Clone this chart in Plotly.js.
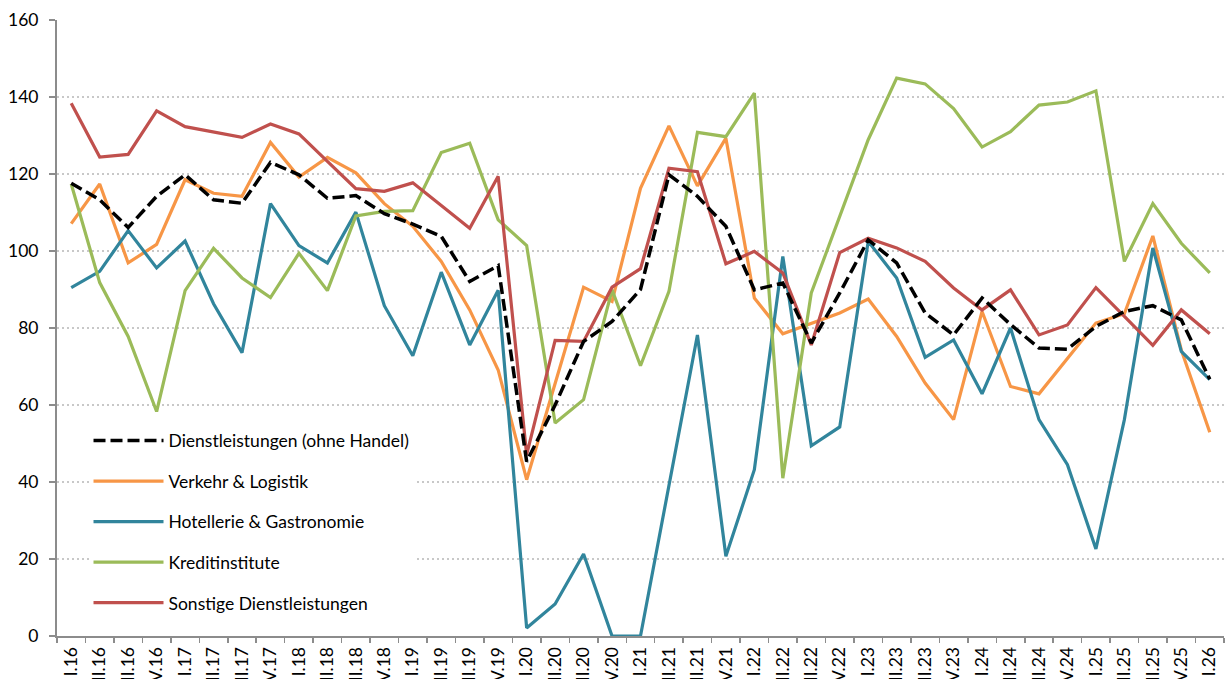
<!DOCTYPE html>
<html>
<head>
<meta charset="utf-8">
<script src="https://cdn.plot.ly/plotly-3.0.1.min.js"></script>
<style>
  html, body { margin: 0; padding: 0; background: #ffffff; }
  #chart { width: 1225px; height: 679px; }
</style>
</head>
<body>
<div id="chart"></div>
<script>
// Quarter labels I.16 ... I.26
const quarters = [
  "I.16","II.16","III.16","IV.16",
  "I.17","II.17","III.17","IV.17",
  "I.18","II.18","III.18","IV.18",
  "I.19","II.19","III.19","IV.19",
  "I.20","II.20","III.20","IV.20",
  "I.21","II.21","III.21","IV.21",
  "I.22","II.22","III.22","IV.22",
  "I.23","II.23","III.23","IV.23",
  "I.24","II.24","III.24","IV.24",
  "I.25","II.25","III.25","IV.25",
  "I.26"
];

const dienstleistungen = [
  117.6,113.3,106.1,114.2, 119.8,113.3,112.4,123.0, 119.8,113.7,114.4,109.7,
  107.0,103.8,92.1,96.2, 45.3,60.0,76.5,81.7, 90.0,119.8,114.2,106.4,
  89.9,91.7,76.1,89.1, 102.9,96.9,83.9,78.2, 87.8,80.9,74.8,74.5,
  80.4,84.3,85.8,82.1, 66.7
];

const verkehr = [
  107.1,117.4,96.9,101.7, 118.5,115.0,114.2,128.2, 119.2,124.3,120.3,112.3,
  106.4,97.3,84.7,69.1, 40.6,65.6,90.6,86.9, 116.3,132.5,116.9,129.3,
  87.8,78.5,81.3,83.9, 87.5,77.8,65.7,56.2, 84.3,64.8,62.9,72.2,
  81.3,83.7,103.9,74.3, 52.9
];

const hotellerie = [
  90.5,94.7,105.3,95.6, 102.6,86.3,73.6,112.3, 101.4,96.9,110.1,85.8,
  72.8,94.5,75.6,89.8, 2.1,8.3,21.3,0.0, 0.0,39.0,78.2,20.7,
  43.2,98.6,49.4,54.3, 102.5,93.0,72.4,76.9, 62.9,80.0,56.2,44.5,
  22.6,56.2,100.8,73.9, 66.6
];

const kredit = [
  117.4,91.8,77.8,58.3, 89.7,100.7,93.0,87.9, 99.4,89.7,109.1,110.3,
  110.5,125.6,128.0,108.1, 101.4,55.3,61.4,89.9, 70.2,89.5,130.8,129.7,
  141.0,41.0,89.1,109.0, 128.9,144.9,143.4,137.0, 127.0,131.0,137.9,138.7,
  141.6,97.3,112.3,102.0, 94.3
];

const sonstige = [
  138.4,124.4,125.1,136.4, 132.3,130.8,129.5,133.0, 130.4,123.3,116.2,115.5,
  117.7,111.8,105.9,119.4, 47.1,76.8,76.5,90.6, 95.4,121.5,120.6,96.7,
  99.9,94.3,75.6,99.6, 103.3,100.8,97.3,90.4, 84.7,89.9,78.2,80.8,
  90.5,83.0,75.5,84.7, 78.5
];

const seriesNames = [
  "Dienstleistungen (ohne Handel)",
  "Verkehr & Logistik",
  "Hotellerie & Gastronomie",
  "Kreditinstitute",
  "Sonstige Dienstleistungen"
];

const yTicks = [0, 20, 40, 60, 80, 100, 120, 140, 160];

const FONT = "Lato, 'Open Sans', sans-serif";

function mk(name, y, color, width, dash, group, rank) {
  return {
    type: "scatter", mode: "lines", name: name, x: quarters, y: y,
    legendgroup: group, legendrank: rank,
    line: { color: color, width: width, dash: dash },
    hoverinfo: "skip"
  };
}

// draw order: coloured series first, black dashed on top
const traces = [
  mk(seriesNames[1], verkehr, "#F79646", 3.2, "solid", "g2", 2),
  mk(seriesNames[2], hotellerie, "#31859C", 3.2, "solid", "g3", 3),
  mk(seriesNames[3], kredit, "#9BBB59", 3.2, "solid", "g4", 4),
  mk(seriesNames[4], sonstige, "#C0504D", 3.2, "solid", "g5", 5),
  mk(seriesNames[0], dienstleistungen, "#000000", 3.5, "12px,5px", "g1", 1)
];

const layout = {
  width: 1225, height: 679,
  margin: { l: 57, r: 1, t: 20, b: 43, pad: 0 },
  paper_bgcolor: "#ffffff", plot_bgcolor: "#ffffff",
  font: { family: FONT, size: 17.5, color: "#000000" },
  showlegend: true,
  legend: {
    x: 0.027, y: 0.025, xanchor: "left", yanchor: "bottom",
    bgcolor: "#ffffff", borderwidth: 0,
    font: { family: FONT, size: 17.5, color: "#000000" },
    itemwidth: 70, tracegroupgap: 14.8,
    traceorder: "grouped"
  },
  // white legend area (covers the dotted grid like the legend box of the original)
  shapes: [{
    type: "rect", xref: "paper", yref: "paper",
    x0: 0.0086, x1: 0.3213, y0: 0.010, y1: 0.364,
    fillcolor: "#ffffff", line: { width: 0 }, layer: "between"
  }],
  xaxis: {
    type: "category",
    categoryorder: "array", categoryarray: quarters,
    range: [-0.5, 40.5],
    showgrid: false, zeroline: false,
    showline: true, linecolor: "#8c8c8c", linewidth: 2,
    ticks: "outside", ticklen: 5, tickcolor: "#8c8c8c", tickwidth: 1.5,
    tickson: "boundaries",
    tickangle: -90,
    ticklabelstandoff: 2,
    tickfont: { family: FONT, size: 17.5, color: "#000000" },
    automargin: false,
    fixedrange: true
  },
  yaxis: {
    range: [0, 160],
    tickvals: yTicks, ticktext: yTicks.map(String),
    showgrid: true, gridcolor: "#c8c8c8", gridwidth: 1.5, griddash: "2px,3px",
    zeroline: false,
    showline: true, linecolor: "#8c8c8c", linewidth: 2,
    ticks: "outside", ticklen: 6, tickcolor: "#8c8c8c", tickwidth: 1.5,
    ticklabelstandoff: 7,
    tickfont: { family: FONT, size: 17.5, color: "#000000" },
    automargin: false,
    fixedrange: true
  }
};

Plotly.newPlot("chart", traces, layout, { displayModeBar: false, staticPlot: true });
</script>
</body>
</html>
